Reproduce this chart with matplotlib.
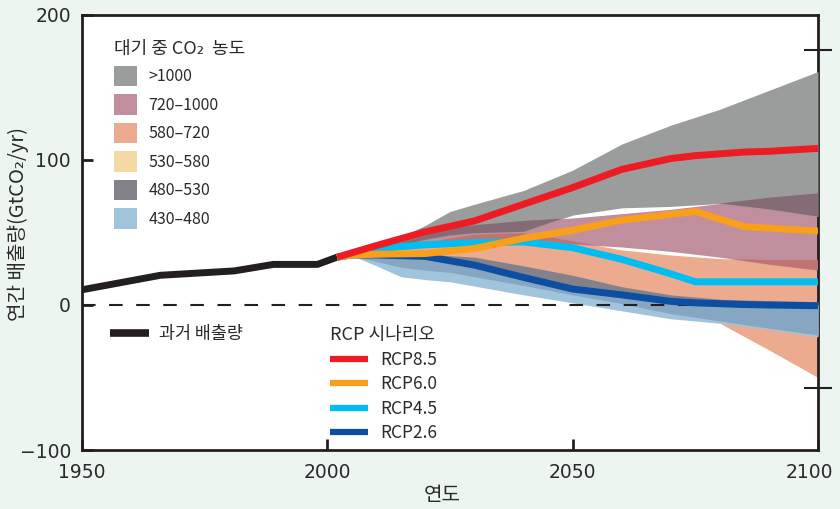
import numpy as np
import matplotlib
matplotlib.use("Agg")
import matplotlib.pyplot as plt
from matplotlib.patches import Patch
from matplotlib.lines import Line2D
from matplotlib.transforms import ScaledTranslation

# ---------------- data ----------------
hist_years = [1950, 1966, 1981, 1989, 1998, 2002]
hist_vals = [10.5, 20.5, 23.5, 28, 28, 33]

rcp_years = [2002, 2005, 2010, 2020, 2030, 2040, 2050, 2060, 2070, 2075, 2085, 2090, 2100]
rcp85 = [33, 36, 41, 50.5, 58, 69.5, 81, 93.5, 101, 103, 105.5, 106, 108]
rcp60 = [33, 34.5, 35, 35.5, 39, 46, 51.5, 58.5, 62.5, 64.5, 54, 53, 51]
rcp45 = [33, 34.5, 39, 41.5, 43, 43.5, 39.5, 31.5, 21.5, 16, 16, 16, 16]
rcp26 = [33, 34.5, 34.5, 33.5, 27.5, 19, 11, 7, 2.5, 1.5, 0.3, 0, -0.5]

band_years = [2005, 2010, 2015, 2020, 2025, 2030, 2040, 2050, 2060, 2070, 2080, 2090, 2100]
gt1000_hi = [34, 40, 47, 55, 64.5, 69.5, 79, 93, 111, 124, 135, 148, 161]
gt1000_lo = [34, 37, 41, 45, 48, 49.5, 50.5, 62, 67, 68, 70, 66, 61]
c720_hi = [34, 38, 43, 48, 53, 55, 58, 60, 63, 66, 70, 74, 77]
c720_lo = [34, 36, 38.5, 41, 43, 45, 45.5, 42, 40, 37, 33, 28, 24]
c580_hi = [34, 36, 39, 42, 46, 48.5, 49.5, 44, 38, 34.5, 32, 31, 31]
c580_lo = [34, 33, 31, 30, 28, 26, 20, 12, 5, -3, -12.6, -31, -50]
c480_hi = [34, 35, 35, 35, 34, 33, 27, 20.5, 12.6, 7, 4, 3, 2.3]
c480_lo = [34, 30, 26, 24, 22.5, 19.5, 13.5, 7, 1, -6, -11, -16, -20.7]
c430_hi = [34, 34, 34, 33.5, 31, 28, 19, 11, 7, 2.5, 0.5, 0, 0]
c430_lo = [34, 27, 19.5, 17.5, 16, 13, 7, 1.5, -4, -9.5, -12.6, -16.8, -22]

conc_labels = [">1000", "720\u20131000", "580\u2013720", "530\u2013580", "480\u2013530", "430\u2013480"]
rcp_labels = ["RCP8.5", "RCP6.0", "RCP4.5", "RCP2.6"]
xticks = [1950, 2000, 2050, 2100]
yticks = [200, 100, 0, -100]
ytick_labels = ["200", "100", "0", "\u2212100"]

# ---------------- style ----------------
KR = ["Noto Sans CJK KR", "DejaVu Sans"]
bg = "#edf5f1"
txt = "#2a2a2a"
c_gt1000 = "#9a9d9c"
c_720 = "#c08e9d"
c_580 = "#ecaa8f"
c_530 = "#f4d9a2"
c_480 = "#85818a"
c_430 = "#a1c4dd"
ov_mauve = "#856b76"
ov_redbrown = "#c07270"
ov_steel = "#87a6c1"
line_cols = ["#ed1c24", "#f9a01b", "#00bdf2", "#0b4ea2"]

fig = plt.figure(figsize=(8.4, 5.09), dpi=100, facecolor=bg)
ax = fig.add_axes([82 / 840, 1 - 450 / 509, (818 - 82) / 840, (450 - 15) / 509])
ax.set_facecolor("white")
ax.set_xlim(1950, 2100)
ax.set_ylim(-100, 200)

x = np.array(band_years, dtype=float)
def arr(a):
    return np.array(a, dtype=float)

def band(lo, hi, col, z):
    ax.fill_between(x, arr(lo), arr(hi), color=col, lw=0, zorder=z)

def overlap(lo1, hi1, lo2, hi2, col, z):
    lo = np.maximum(arr(lo1), arr(lo2))
    hi = np.minimum(arr(hi1), arr(hi2))
    ax.fill_between(x, lo, hi, where=hi > lo, interpolate=True, color=col, lw=0, zorder=z)

band(c580_lo, c580_hi, c_580, 1)
band(c720_lo, c720_hi, c_720, 2)
band(gt1000_lo, gt1000_hi, c_gt1000, 3)
overlap(gt1000_lo, gt1000_hi, c720_lo, c720_hi, ov_mauve, 4)
overlap(c720_lo, c720_hi, c580_lo, c580_hi, ov_redbrown, 4)
band(c480_lo, c480_hi, c_480, 5)
band(c430_lo, c430_hi, c_430, 6)
overlap(c430_lo, c430_hi, c480_lo, c480_hi, ov_steel, 7)

# zero line
ax.axhline(0, color="#231f20", lw=1.5, ls=(0, (6.5, 6.5)), zorder=8)

# lines
ax.plot(hist_years, hist_vals, color="#231f20", lw=5, solid_capstyle="butt", zorder=9)
for vals, col, z in zip([rcp26, rcp45, rcp60, rcp85], line_cols[::-1], [10, 11, 12, 13]):
    ax.plot(rcp_years, vals, color=col, lw=5, solid_capstyle="butt",
            solid_joinstyle="miter", zorder=z)

# axes / ticks
for s in ax.spines.values():
    s.set_linewidth(2)
    s.set_color("#231f20")
ax.set_xticks(xticks)
ax.set_xticklabels([str(t) for t in xticks], fontsize=13.5, color=txt, family="DejaVu Sans")
ax.set_yticks(yticks)
ax.set_yticklabels(ytick_labels, fontsize=13.5, color=txt, family="DejaVu Sans")
ax.tick_params(axis="both", direction="in", length=8, width=2, color="#231f20")
ax.tick_params(axis="y", pad=8)
ax.tick_params(axis="x", pad=9)
last = ax.xaxis.get_major_ticks()[-1].label1
last.set_transform(last.get_transform() + ScaledTranslation(-6 / 72, 0, fig.dpi_scale_trans))

ax2 = ax.twinx()
ax2.set_ylim(-100, 200)
ax2.set_yticks([176, -57])
ax2.set_yticklabels([])
ax2.tick_params(direction="inout", length=20, width=1.5, color="#231f20")
for s in ax2.spines.values():
    s.set_visible(False)

ax.set_ylabel("연간 배출량(GtCO\u2082/yr)", family=KR, fontsize=14.5, color=txt)
ax.yaxis.set_label_coords(-0.072, 0.52)
ax.set_xlabel("연도", family=KR, fontsize=14.5, color=txt)
ax.xaxis.set_label_coords(0.49, -0.08)

# legends
conc_cols = [c_gt1000, c_720, c_580, c_530, c_480, c_430]
h1 = [Patch(facecolor=c, edgecolor="none") for c in conc_cols]
leg1 = ax.legend(h1, conc_labels, title="대기 중 CO\u2082  농도", loc="upper left",
                 bbox_to_anchor=(0.032, 0.962), frameon=False, borderpad=0,
                 handlelength=1.45, handleheight=1.6, labelspacing=0.5,
                 handletextpad=0.72, prop={"family": KR, "size": 11.5},
                 title_fontproperties={"family": KR, "size": 13}, alignment="left")
for t in leg1.get_texts():
    t.set_color(txt)
leg1.get_title().set_color(txt)
ax.add_artist(leg1)

h2 = [Line2D([], [], color="#231f20", lw=5.5, solid_capstyle="butt")]
leg2 = ax.legend(h2, ["과거 배출량"], loc="center left", bbox_to_anchor=(0.026, 0.266),
                 frameon=False, borderpad=0, handlelength=2.25, handletextpad=0.6,
                 prop={"family": KR, "size": 12.5})
for t in leg2.get_texts():
    t.set_color(txt)
ax.add_artist(leg2)

h3 = [Line2D([], [], color=c, lw=4.5, solid_capstyle="butt") for c in line_cols]
leg3 = ax.legend(h3, rcp_labels, title="RCP 시나리오", loc="upper left",
                 bbox_to_anchor=(0.3245, 0.304), frameon=False, borderpad=0,
                 handlelength=2.2, handletextpad=0.75, labelspacing=0.37,
                 prop={"family": KR, "size": 12.5},
                 title_fontproperties={"family": KR, "size": 13}, alignment="left")
for t in leg3.get_texts():
    t.set_color(txt)
leg3.get_title().set_color(txt)

fig.savefig("out.png", dpi=100, facecolor=bg)
